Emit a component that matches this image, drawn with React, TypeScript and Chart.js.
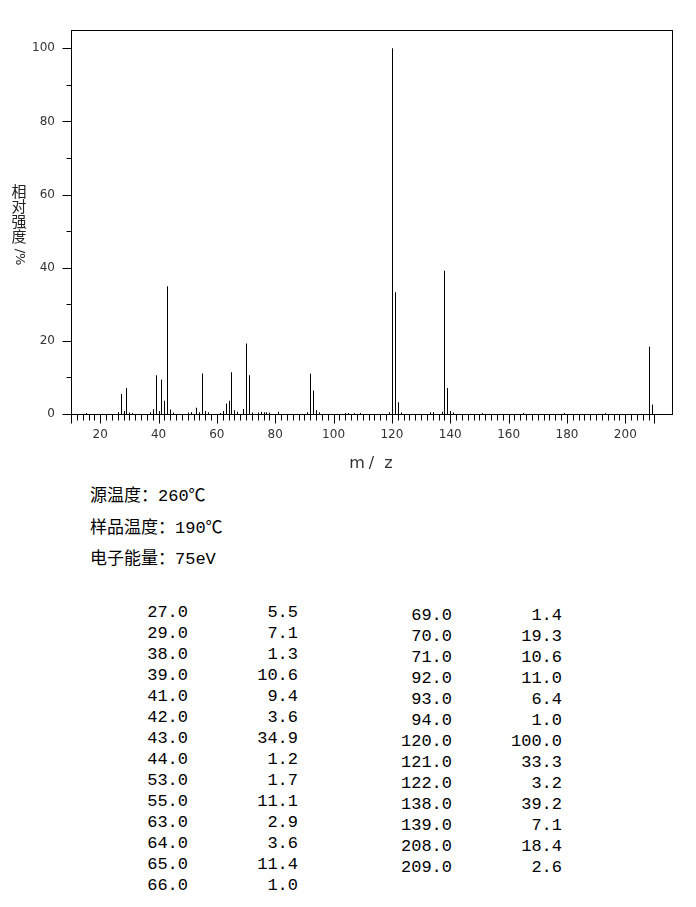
import React, { useEffect, useRef } from "react";
import { Chart, registerables } from "chart.js";

Chart.register(...registerables);

// Listed peaks (m/z, relative intensity %)
const peakMz = [27, 29, 38, 39, 41, 42, 43, 44, 53, 55, 63, 64, 65, 66, 69, 70, 71, 92, 93, 94, 120, 121, 122, 138, 139, 208, 209];
const peakIntensity = [5.5, 7.1, 1.3, 10.6, 9.4, 3.6, 34.9, 1.2, 1.7, 11.1, 2.9, 3.6, 11.4, 1.0, 1.4, 19.3, 10.6, 11.0, 6.4, 1.0, 100.0, 33.3, 3.2, 39.2, 7.1, 18.4, 2.6];

// Small unlisted peaks
const minorMz = [15, 26, 28, 30, 31, 37, 40, 45, 50, 51, 54, 56, 57, 61, 62, 67, 72, 74, 75, 76, 77, 78, 81, 91, 95, 104, 105, 107, 109, 119, 123, 133, 134, 137, 140, 141, 151, 165, 179, 193];
const minorIntensity = [0.3, 0.5, 0.8, 0.4, 0.3, 0.5, 0.8, 0.4, 0.4, 0.5, 0.5, 0.8, 0.5, 0.3, 0.8, 0.6, 0.4, 0.4, 0.6, 0.5, 0.5, 0.4, 0.6, 0.5, 0.5, 0.3, 0.3, 0.3, 0.3, 0.5, 0.4, 0.5, 0.5, 0.6, 0.8, 0.4, 0.3, 0.3, 0.3, 0.3];

const xTickLabels = [20, 40, 60, 80, 100, 120, 140, 160, 180, 200];
const yTickLabels = [0, 20, 40, 60, 80, 100];
const xTitle = ["m", "/", "z"];
const yTitleChars = ["相", "对", "强", "度"];
const yTitleUnit = "/%";
const infoLines = ["源温度：260℃", "样品温度：190℃", "电子能量：75eV"];
const leftRows = 14;

const framePlugin = {
  id: "msFrame",
  afterDatasetsUpdate(chart: any) {
    chart.getDatasetMeta(0).data.forEach((el: any) => {
      el.x = Math.round(el.x) + 0.5;
    });
  },
  afterDraw(chart: any) {
    const { ctx, chartArea: a, scales } = chart;
    const x = scales.x;
    const y = scales.y;
    ctx.save();
    ctx.strokeStyle = "#000";
    ctx.lineWidth = 1;
    const L = Math.round(a.left) + 0.5;
    const R = Math.round(a.right) + 0.5;
    const T = Math.round(a.top) + 0.5;
    const B = Math.round(a.bottom) + 0.5;
    ctx.strokeRect(L, T, R - L, B - T);
    ctx.beginPath();
    for (let v = 0; v <= 100; v += 10) {
      const py = Math.round(y.getPixelForValue(v)) + 0.5;
      const len = v % 20 === 0 ? 9 : 5;
      ctx.moveTo(L - len, py);
      ctx.lineTo(L, py);
    }
    for (let v = 10; v <= 210; v += 2) {
      const px = Math.round(x.getPixelForValue(v)) + 0.5;
      const len = v % 20 === 0 || v === 10 || v === 210 ? 9 : 6;
      ctx.moveTo(px, B);
      ctx.lineTo(px, B + len);
    }
    ctx.stroke();

    // x title
    ctx.fillStyle = "#333";
    ctx.font = "16px 'DejaVu Sans'";
    ctx.textAlign = "center";
    ctx.textBaseline = "alphabetic";
    const cx = (a.left + a.right) / 2;
    const offs = [-14.5, 0, 17];
    xTitle.forEach((c, i) => ctx.fillText(c, cx + offs[i], 468));

    // y title (vertical)
    ctx.fillStyle = "#222";
    ctx.font = "15px 'Noto Sans CJK SC'";
    ctx.textBaseline = "middle";
    yTitleChars.forEach((c, i) => ctx.fillText(c, 19, 191 + i * 15.2));
    ctx.save();
    ctx.translate(19, 257);
    ctx.rotate(Math.PI / 2);
    ctx.font = "13px 'DejaVu Sans'";
    ctx.fillText(yTitleUnit, 0, 0);
    ctx.restore();
    ctx.restore();
  },
};

export default function App() {
  const ref = useRef<HTMLCanvasElement>(null);

  useEffect(() => {
    if (!ref.current) return;
    const data = [
      ...minorMz.map((m, i) => ({ x: m, y: minorIntensity[i] })),
      ...peakMz.map((m, i) => ({ x: m, y: peakIntensity[i] })),
    ];
    const chart = new Chart(ref.current, {
      type: "bar",
      data: {
        datasets: [
          {
            data,
            backgroundColor: "#000",
            borderWidth: 0,
            barThickness: 1,
            inflateAmount: 0,
            grouped: false,
          } as any,
        ],
      },
      options: {
        responsive: false,
        animation: false,
        devicePixelRatio: 1,
        layout: { padding: { top: 30, right: 24, left: 0, bottom: 0 } },
        plugins: { legend: { display: false }, tooltip: { enabled: false } },
        scales: {
          x: {
            type: "linear",
            offset: false,
            min: 10,
            max: 216,
            afterBuildTicks: (s: any) => {
              s.ticks = xTickLabels.map((v) => ({ value: v }));
            },
            afterFit: (s: any) => {
              s.height = 56;
            },
            ticks: {
              font: { family: "'DejaVu Sans'", size: 12 },
              color: "#333",
              padding: 14,
              maxRotation: 0,
              autoSkip: false,
            },
            grid: { display: false, drawTicks: false, offset: false },
            border: { display: false },
          },
          y: {
            type: "linear",
            min: 0,
            max: 105,
            afterBuildTicks: (s: any) => {
              s.ticks = yTickLabels.map((v) => ({ value: v }));
            },
            afterFit: (s: any) => {
              s.width = 71;
            },
            ticks: {
              font: { family: "'DejaVu Sans'", size: 12 },
              color: "#333",
              padding: 16,
            },
            grid: { display: false, drawTicks: false },
            border: { display: false },
          },
        },
      } as any,
      plugins: [framePlugin],
    });
    return () => chart.destroy();
  }, []);

  const mono = "'Liberation Mono', 'Noto Sans CJK SC', monospace";
  const rows = peakMz.map((m, i) => ({ mz: m.toFixed(1), it: peakIntensity[i].toFixed(1) }));

  return (
    <div style={{ position: "absolute", left: 0, top: 0, width: 696, height: 907, background: "#fff", overflow: "hidden" }}>
      <canvas ref={ref} width={696} height={470} style={{ position: "absolute", left: 0, top: 0, width: 696, height: 470 }} />
      {infoLines.map((t, i) => (
        <div
          key={"i" + i}
          style={{
            position: "absolute",
            left: 90,
            top: 497 + i * 31.5 - 12,
            height: 24,
            lineHeight: "24px",
            fontFamily: mono,
            fontSize: 17,
            color: "#000",
            whiteSpace: "pre",
          }}
        >
          {t}
        </div>
      ))}
      {rows.map((r, i) => {
        const left = i < leftRows;
        const k = left ? i : i - leftRows;
        const cy = (left ? 612 : 615) + k * 21;
        const r1 = left ? 188 : 452;
        const r2 = left ? 298 : 562;
        const base = {
          position: "absolute" as const,
          top: cy - 10.5,
          height: 21,
          lineHeight: "21px",
          fontFamily: mono,
          fontSize: 17,
          color: "#000",
          whiteSpace: "pre" as const,
          textAlign: "right" as const,
          width: 100,
        };
        return (
          <React.Fragment key={"r" + i}>
            <div style={{ ...base, left: r1 - 100 }}>{r.mz}</div>
            <div style={{ ...base, left: r2 - 100 }}>{r.it}</div>
          </React.Fragment>
        );
      })}
    </div>
  );
}
